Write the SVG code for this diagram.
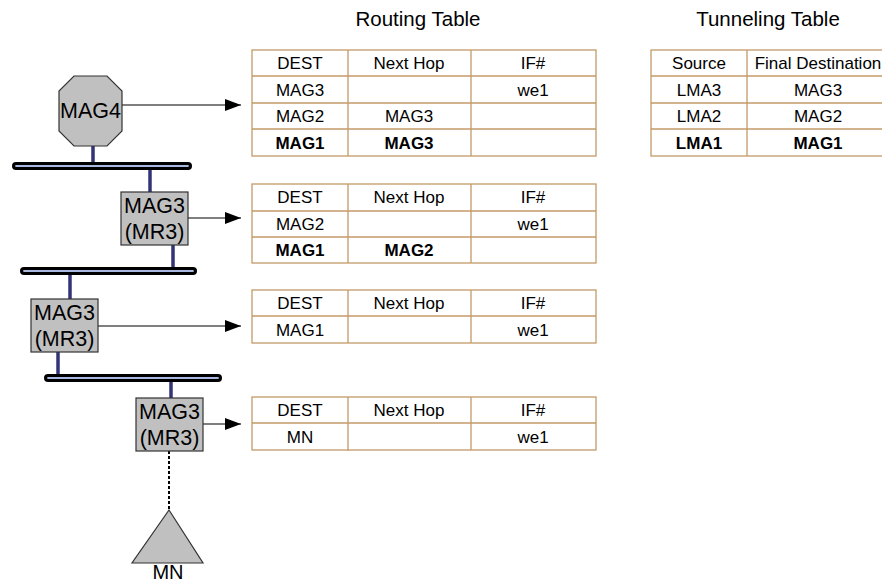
<svg xmlns="http://www.w3.org/2000/svg" width="882" height="585" viewBox="0 0 882 585">
<defs>
<marker id="ah" markerWidth="16" markerHeight="12" refX="16" refY="6" orient="auto" markerUnits="userSpaceOnUse">
<path d="M0,0 L16,6 L0,12 z" fill="#000"/>
</marker>
<style>
text{font-family:"Liberation Sans",Arial,sans-serif;fill:#000}
.t{font-size:17px;text-anchor:middle}
.b{font-weight:bold}
.title{font-size:20.5px;text-anchor:middle}
.n{font-size:21.5px;text-anchor:middle}
.cell{fill:#fff;stroke:#c39a68;stroke-width:1.3}
.node{fill:#c0c0c0;stroke:#333;stroke-width:1.2}
.link{stroke:#33337a;stroke-width:3.5}
.busO{stroke:#000;stroke-width:8;stroke-linecap:round}
.busI{stroke:#a8b8e0;stroke-width:1.8;stroke-linecap:round}
.arr{stroke:#000;stroke-width:1.2;fill:none}
</style>
</defs>

<text class="title" x="418" y="26">Routing Table</text>
<text class="title" x="768" y="26">Tunneling Table</text>

<g id="connectors">
<line class="link" x1="93" y1="146" x2="93" y2="164"/>
<line class="link" x1="150" y1="168" x2="150" y2="192"/>
<line class="link" x1="173" y1="245" x2="173" y2="269"/>
<line class="link" x1="70" y1="273" x2="70" y2="299"/>
<line class="link" x1="58" y1="352" x2="58" y2="376"/>
<line class="link" x1="171" y1="380" x2="171" y2="398"/>
<line stroke="#000" stroke-width="2" stroke-dasharray="3,2" x1="169" y1="451" x2="169" y2="510"/>
<line class="arr" x1="122" y1="105" x2="241" y2="105" marker-end="url(#ah)"/>
<line class="arr" x1="188" y1="218" x2="241" y2="218" marker-end="url(#ah)"/>
<line class="arr" x1="98" y1="326" x2="241" y2="326" marker-end="url(#ah)"/>
<line class="arr" x1="203" y1="424" x2="241" y2="424" marker-end="url(#ah)"/>
</g>

<g id="bus1"><line class="busO" x1="16" y1="166" x2="188" y2="166"/><line class="busI" x1="16" y1="166" x2="188" y2="166"/></g>
<g id="bus2"><line class="busO" x1="24" y1="271" x2="193" y2="271"/><line class="busI" x1="24" y1="271" x2="193" y2="271"/></g>
<g id="bus3"><line class="busO" x1="48" y1="378" x2="218" y2="378"/><line class="busI" x1="48" y1="378" x2="218" y2="378"/></g>

<g id="mag4">
<polygon class="node" points="74,76 107,76 122,91 122,131 107,146 74,146 59,131 59,91"/>
<text class="n" x="90.5" y="118">MAG4</text>
</g>

<g id="mag3a">
<rect class="node" x="121" y="192" width="67" height="53"/>
<text class="n" x="154.5" y="213">MAG3</text>
<text class="n" x="154.5" y="239">(MR3)</text>
</g>

<g id="mag3b">
<rect class="node" x="31" y="299" width="67" height="53"/>
<text class="n" x="64.5" y="320">MAG3</text>
<text class="n" x="64.5" y="346">(MR3)</text>
</g>

<g id="mag3c">
<rect class="node" x="136" y="398" width="67" height="53"/>
<text class="n" x="169.5" y="419">MAG3</text>
<text class="n" x="169.5" y="445">(MR3)</text>
</g>

<g id="mn">
<polygon class="node" points="169,510 203,563 132,563"/>
<text x="168" y="579" style="font-size:20px;text-anchor:middle">MN</text>
</g>

<g id="rt1">
<rect class="cell" x="252" y="50" width="344" height="106"/>
<line class="cell" x1="252" y1="76" x2="596" y2="76"/>
<line class="cell" x1="252" y1="103" x2="596" y2="103"/>
<line class="cell" x1="252" y1="129" x2="596" y2="129"/>
<line class="cell" x1="348" y1="50" x2="348" y2="156"/>
<line class="cell" x1="471" y1="50" x2="471" y2="156"/>
<text class="t" x="300" y="69">DEST</text><text class="t" x="409" y="69">Next Hop</text><text class="t" x="533" y="69">IF#</text>
<text class="t" x="300" y="96">MAG3</text><text class="t" x="533" y="96">we1</text>
<text class="t" x="300" y="122">MAG2</text><text class="t" x="409" y="122">MAG3</text>
<text class="t b" x="300" y="149">MAG1</text><text class="t b" x="409" y="149">MAG3</text>
</g>

<g id="rt2">
<rect class="cell" x="252" y="184" width="344" height="79"/>
<line class="cell" x1="252" y1="211" x2="596" y2="211"/>
<line class="cell" x1="252" y1="237" x2="596" y2="237"/>
<line class="cell" x1="348" y1="184" x2="348" y2="263"/>
<line class="cell" x1="471" y1="184" x2="471" y2="263"/>
<text class="t" x="300" y="203">DEST</text><text class="t" x="409" y="203">Next Hop</text><text class="t" x="533" y="203">IF#</text>
<text class="t" x="300" y="230">MAG2</text><text class="t" x="533" y="230">we1</text>
<text class="t b" x="300" y="256">MAG1</text><text class="t b" x="409" y="256">MAG2</text>
</g>

<g id="rt3">
<rect class="cell" x="252" y="290" width="344" height="53"/>
<line class="cell" x1="252" y1="316" x2="596" y2="316"/>
<line class="cell" x1="348" y1="290" x2="348" y2="343"/>
<line class="cell" x1="471" y1="290" x2="471" y2="343"/>
<text class="t" x="300" y="309">DEST</text><text class="t" x="409" y="309">Next Hop</text><text class="t" x="533" y="309">IF#</text>
<text class="t" x="300" y="336">MAG1</text><text class="t" x="533" y="336">we1</text>
</g>

<g id="rt4">
<rect class="cell" x="252" y="397" width="344" height="53"/>
<line class="cell" x1="252" y1="423" x2="596" y2="423"/>
<line class="cell" x1="348" y1="397" x2="348" y2="451"/>
<line class="cell" x1="471" y1="397" x2="471" y2="450"/>
<text class="t" x="300" y="416">DEST</text><text class="t" x="409" y="416">Next Hop</text><text class="t" x="533" y="416">IF#</text>
<text class="t" x="300" y="443">MN</text><text class="t" x="533" y="443">we1</text>
</g>

<g id="tt">
<rect class="cell" x="651" y="50" width="232" height="106"/>
<line class="cell" x1="651" y1="76" x2="882" y2="76"/>
<line class="cell" x1="651" y1="103" x2="882" y2="103"/>
<line class="cell" x1="651" y1="129" x2="882" y2="129"/>
<line class="cell" x1="747" y1="50" x2="747" y2="156"/>
<text class="t" x="699" y="69">Source</text><text class="t" x="818" y="69">Final Destination</text>
<text class="t" x="699" y="96">LMA3</text><text class="t" x="818" y="96">MAG3</text>
<text class="t" x="699" y="122">LMA2</text><text class="t" x="818" y="122">MAG2</text>
<text class="t b" x="699" y="149">LMA1</text><text class="t b" x="818" y="149">MAG1</text>
</g>
</svg>
